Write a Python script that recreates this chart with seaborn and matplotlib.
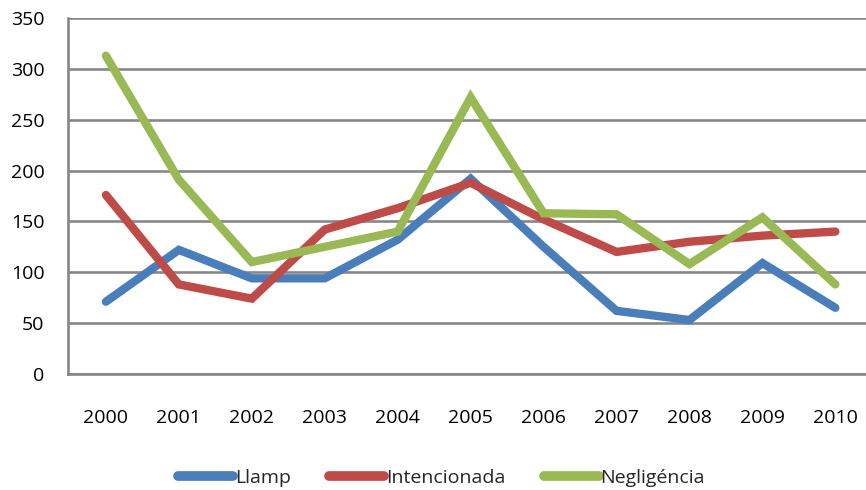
import pandas as pd
import matplotlib
matplotlib.use("Agg")
import matplotlib.pyplot as plt
import seaborn as sns

sns.set_style("white")
plt.rcParams["font.family"] = ["Open Sans", "DejaVu Sans"]

# ---------------------------------------------------------
# Data
# ---------------------------------------------------------
years = ["2000", "2001", "2002", "2003", "2004", "2005",
         "2006", "2007", "2008", "2009", "2010"]
llamp = [71, 122, 94, 94, 132, 192, 125, 62, 53, 109, 65]
intencionada = [176, 88, 74, 142, 163, 188, 152, 120, 130, 136, 140]
negligencia = [313, 191, 110, 125, 140, 272, 158, 157, 108, 154, 88]

series = ["Llamp", "Intencionada", "Negligéncia"]
colors = ["#4A7EBB", "#BE4B48", "#98B954"]

df = pd.DataFrame({"year": years, "Llamp": llamp,
                   "Intencionada": intencionada, "Negligéncia": negligencia})
long = df.melt(id_vars="year", var_name="causa", value_name="valor")

# ---------------------------------------------------------
# Plot
# ---------------------------------------------------------
fig = plt.figure(figsize=(8.66, 4.9), dpi=100)
ax = fig.add_axes([0.0785, 0.237, 0.9215, 0.726])

sns.lineplot(data=long, x="year", y="valor", hue="causa", hue_order=series,
             palette=colors, linewidth=6, solid_capstyle="round",
             solid_joinstyle="miter", ax=ax, zorder=3)

ax.set_ylim(0, 350)
ax.set_xlim(-0.52, 10.42)
ax.set_yticks(range(0, 351, 50))
ax.yaxis.grid(True, color="#878787", linewidth=1.9)
ax.set_axisbelow(True)
for s in ["top", "right"]:
    ax.spines[s].set_visible(False)
for s in ["left", "bottom"]:
    ax.spines[s].set_color("#878787")
    ax.spines[s].set_linewidth(1.9)
ax.tick_params(axis="x", length=0, pad=25, labelsize=14, colors="black")
ax.tick_params(axis="y", length=0, pad=17, labelsize=14, colors="black")
ax.set_xlabel("")
ax.set_ylabel("")

ax.get_legend().remove()
handles, labels = ax.get_legend_handles_labels()
for h in handles:
    h.set_linewidth(7)
fig.legend(handles, labels, loc="center", bbox_to_anchor=(0.51, 0.024),
           ncol=3, frameon=False, fontsize=14, handlelength=2.8,
           handletextpad=0.1, columnspacing=2.0)

plt.savefig("out.png", dpi=100)
plt.close()
